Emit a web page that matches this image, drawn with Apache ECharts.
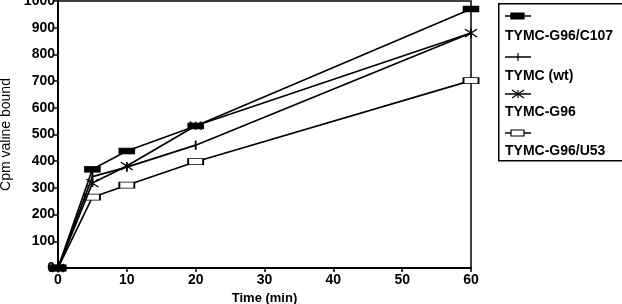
<!DOCTYPE html>
<html>
<head>
<meta charset="utf-8">
<script src="https://cdn.jsdelivr.net/npm/echarts@6/dist/echarts.min.js"></script>
<style>html,body{margin:0;padding:0;background:#fff}#container{width:622px;height:304px}</style>
</head>
<body>
<div id="container"></div>
<script>
var times = [0, 5, 10, 20, 60];
var names = ['TYMC-G96/C107', 'TYMC (wt)', 'TYMC-G96', 'TYMC-G96/U53'];
var c107 = [0, 370, 438, 532, 970];
var wt = [0, 342, 378, 460, 880];
var g96 = [0, 318, 382, 533, 880];
var u53 = [0, 265, 310, 398, 702];
var yTicks = [0, 100, 200, 300, 400, 500, 600, 700, 800, 900, 1000];

var dom = document.getElementById('container');
var myChart = echarts.init(dom);

var font = 'Liberation Sans, Arial, sans-serif';
var tickPath = 'path://M0,0L1,0L1,10L0,10Z';
var bowPath = 'path://M0,0L6,5L0,10M12,0L6,5L12,10M6,0L6,10';

function pairs(arr) {
    return times.map(function (t, i) { return [t, arr[i]]; });
}

var styles = [
    { symbol: 'rect', size: [15, 6], item: { color: '#000', borderColor: '#000', borderWidth: 1 } },
    { symbol: tickPath, size: [1.5, 8], item: { color: '#000', borderColor: '#000', borderWidth: 0.5 } },
    { symbol: bowPath, size: [12, 8], item: { color: 'rgba(0,0,0,0)', borderColor: '#000', borderWidth: 1.3 } },
    { symbol: 'rect', size: [15, 6], item: { color: '#fff', borderColor: '#000', borderWidth: 1.2 } }
];
var values = [c107, wt, g96, u53];

var series = [3, 2, 1, 0].map(function (k) {
    return {
        name: names[k],
        type: 'line',
        data: pairs(values[k]),
        symbol: styles[k].symbol,
        symbolSize: styles[k].size,
        showAllSymbol: true,
        lineStyle: { color: '#000', width: 1.7 },
        itemStyle: styles[k].item,
        z: 10 - k,
        animation: false
    };
});

// legend box drawn by hand: icon above name
var legendGraphics = [{
    type: 'rect', left: 498, top: 3,
    shape: { width: 130, height: 157 },
    style: { fill: '#fff', stroke: '#000', lineWidth: 1.5 }
}];
var iconY = [16, 57, 94, 133];
var textY = [29, 69, 105, 144];
names.forEach(function (n, k) {
    legendGraphics.push({
        type: 'line', shape: { x1: 505, y1: iconY[k], x2: 531, y2: iconY[k] },
        style: { stroke: '#000', lineWidth: 1.5 }
    });
    if (k === 0 || k === 3) {
        legendGraphics.push({
            type: 'rect', shape: { x: 511, y: iconY[k] - 3, width: 13, height: 6 },
            style: { fill: k === 0 ? '#000' : '#fff', stroke: '#000', lineWidth: 1.2 }
        });
    } else if (k === 1) {
        legendGraphics.push({
            type: 'line', shape: { x1: 518, y1: iconY[k] - 4, x2: 518, y2: iconY[k] + 4 },
            style: { stroke: '#000', lineWidth: 1.2 }
        });
    } else {
        legendGraphics.push({
            type: 'polyline', shape: { points: [[512, iconY[k] - 4], [518, iconY[k]], [512, iconY[k] + 4]] },
            style: { stroke: '#000', fill: null, lineWidth: 1.2 }
        });
        legendGraphics.push({
            type: 'polyline', shape: { points: [[524, iconY[k] - 4], [518, iconY[k]], [524, iconY[k] + 4]] },
            style: { stroke: '#000', fill: null, lineWidth: 1.2 }
        });
        legendGraphics.push({
            type: 'line', shape: { x1: 518, y1: iconY[k] - 4, x2: 518, y2: iconY[k] + 4 },
            style: { stroke: '#000', lineWidth: 1.2 }
        });
    }
    legendGraphics.push({
        type: 'text', left: 505, top: textY[k],
        style: { text: n, fill: '#000', font: 'bold 14px ' + font }
    });
});

option = {
    backgroundColor: '#fff',
    animation: false,
    grid: {
        left: 58, right: 151, top: 1, bottom: 36,
        outerBoundsMode: 'none',
        containLabel: false,
        show: true, borderColor: '#000', borderWidth: 1.5
    },
    xAxis: {
        type: 'value', min: 0, max: 60, interval: 10,
        name: 'Time (min)', nameLocation: 'middle', nameGap: 22,
        nameTextStyle: { color: '#000', fontFamily: font, fontWeight: 'bold', fontSize: 13 },
        axisLine: { show: true, lineStyle: { color: '#000', width: 2 } },
        axisTick: { show: true, length: 4, lineStyle: { color: '#000', width: 1.5 } },
        axisLabel: { color: '#000', fontFamily: font, fontWeight: 'bold', fontSize: 14, margin: 5 },
        splitLine: { show: false }
    },
    yAxis: {
        type: 'value', min: yTicks[0], max: yTicks[yTicks.length - 1], interval: 100,
        name: 'Cpm valine bound', nameLocation: 'middle', nameGap: 44,
        nameTextStyle: { color: '#000', fontFamily: font, fontSize: 14 },
        axisLine: { show: true, lineStyle: { color: '#000', width: 2 } },
        axisTick: { show: true, length: 4, lineStyle: { color: '#000', width: 1.5 } },
        axisLabel: {
            color: '#000', fontFamily: font, fontWeight: 'bold', fontSize: 14, margin: 3,
            formatter: function (v) { return String(v); }
        },
        splitLine: { show: false }
    },
    graphic: legendGraphics,
    series: series
};

if (option && typeof option === 'object') {
    myChart.setOption(option, true);
}
</script>
</body>
</html>
